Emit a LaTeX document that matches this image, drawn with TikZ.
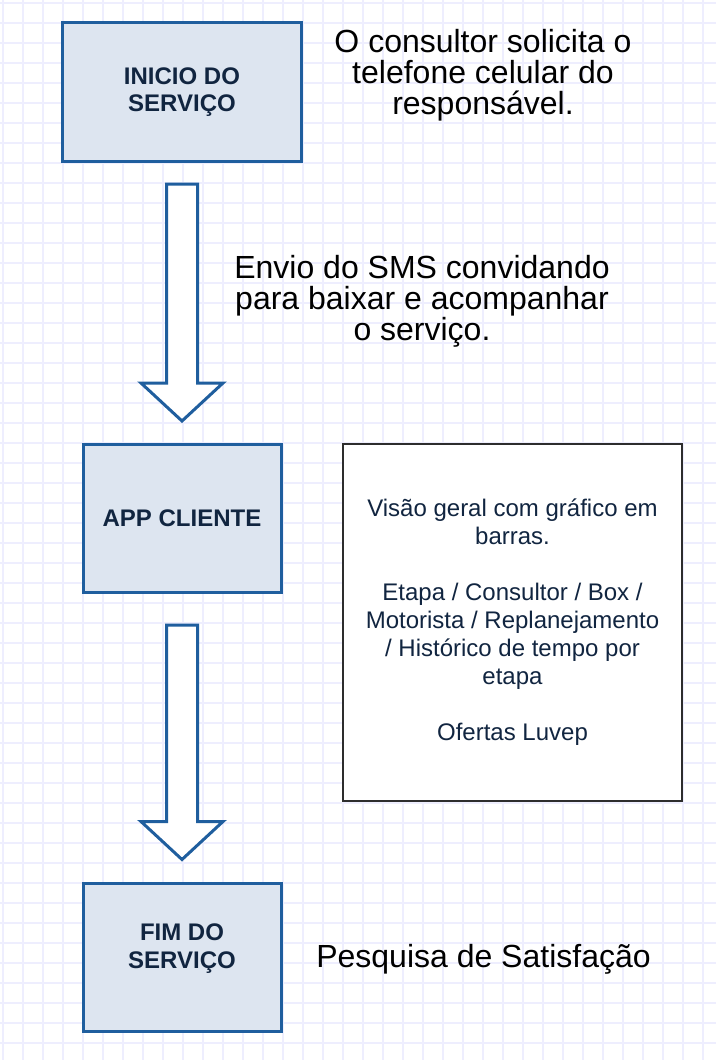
\documentclass[tikz,border=0pt]{standalone}
\usepackage{fontspec}
\setmainfont{Liberation Sans}
\usetikzlibrary{positioning}
\usetikzlibrary{calc}

\definecolor{boxblue}{RGB}{31,94,158}
\definecolor{boxfill}{RGB}{221,229,240}
\definecolor{boxtext}{RGB}{17,37,64}
\definecolor{gridlav}{RGB}{238,238,254}
\definecolor{notegray}{RGB}{45,45,45}

\begin{document}
\begin{tikzpicture}[x=1pt, y=-1pt, on grid,
stepbox/.style ={rectangle, draw=boxblue, line width=3pt, fill=boxfill, text=boxtext, align=center, inner sep=0pt, font=\fontsize{24}{27.5}\selectfont\bfseries, minimum width=198pt, minimum height=148pt},
detailbox/.style ={rectangle, draw=notegray, line width=2pt, fill=white, text=boxtext, align=center, inner sep=0pt, font=\fontsize{24}{28}\selectfont, minimum width=339pt, minimum height=357pt},
note/.style ={align=center, text=black, font=\fontsize{32}{31}\selectfont},
blockarrow/.style ={draw=boxblue, line width=3pt, fill=white, to path={let \p1=(\tikztostart), \p2=(\tikztotarget) in (\x1-15.5,\y1) -- (\x1+15.5,\y1) -- (\x1+15.5,\y2+38) -- (\x1+41,\y2+38) -- (\x1,\y2) -- (\x1-41,\y2+38) -- (\x1-15.5,\y2+38) -- cycle}}]
\useasboundingbox[fill=white] (0,0) rectangle (716,1060);
% grid paper
\foreach \gx in {3,23,...,703} \draw[gridlav, line width=1.5pt] (\gx,0) -- (\gx,1060);
\foreach \gy in {3,23,...,1043} \draw[gridlav, line width=1.5pt] (0,\gy) -- (716,\gy);

\node[stepbox, minimum width=239pt, minimum height=139pt] (inicio) at (182,92) {INICIO DO\\SERVIÇO};
\node[stepbox] (app) [below=426.5pt of inicio] {APP CLIENTE};
\node[stepbox] (fim) [below=438.5pt of app] {FIM DO\\SERVIÇO\\[-6pt]\mbox{}};

\draw[blockarrow] ([yshift=-21pt]inicio.south) to ([yshift=22pt]app.north);
\draw[blockarrow] ([yshift=-31pt]app.south) to ([yshift=22pt]fim.north);

\node[note] (consultor) at (483,75.5) {O consultor solicita o\\telefone celular do\\responsável.};
\node[note] (envio) at (422,301.5) {Envio do SMS convidando\\para baixar e acompanhar\\o serviço.};
\node[note] (pesquisa) at (483.5,959) {Pesquisa de Satisfação};

\node[detailbox] (visao) at (512.5,622.5) {Visão geral com gráfico em\\barras.\\[28pt]Etapa / Consultor / Box /\\Motorista / Replanejamento\\/ Histórico de tempo por\\etapa\\[28pt]Ofertas Luvep};
\end{tikzpicture}
\end{document}
